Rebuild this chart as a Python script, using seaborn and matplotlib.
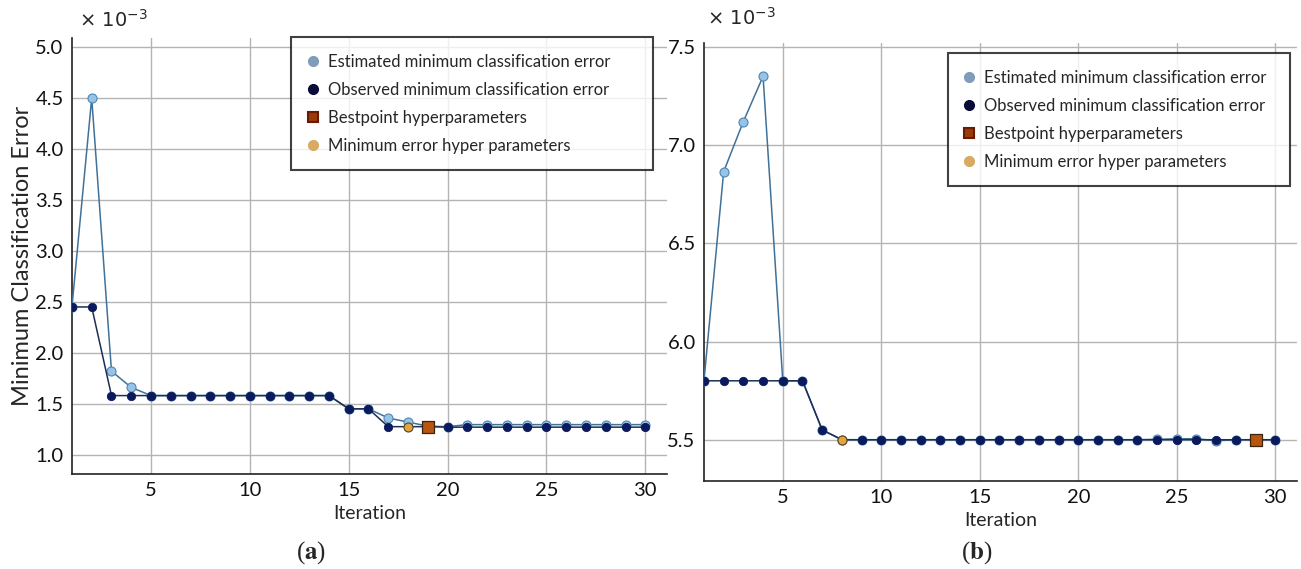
import numpy as np
import pandas as pd
import matplotlib
matplotlib.use("Agg")
import matplotlib.pyplot as plt
from matplotlib.lines import Line2D
import seaborn as sns

# ---------------- data (values in units of 1e-3) ----------------
iterations = list(range(1, 31))

est_a = [2.45, 4.50, 1.82, 1.66, 1.58, 1.58, 1.58, 1.58, 1.58, 1.58,
         1.58, 1.58, 1.58, 1.58, 1.45, 1.45, 1.36, 1.32, 1.28, 1.275,
         1.295, 1.295, 1.295, 1.295, 1.295, 1.295, 1.295, 1.295, 1.295, 1.295]
obs_a = [2.45, 2.45, 1.58, 1.58, 1.58, 1.58, 1.58, 1.58, 1.58, 1.58,
         1.58, 1.58, 1.58, 1.58, 1.45, 1.45, 1.275, 1.275, 1.275, 1.27,
         1.27, 1.27, 1.27, 1.27, 1.27, 1.27, 1.27, 1.27, 1.27, 1.27]
best_a_iter = [19]
best_a_val = [1.275]
minerr_a_iter = [18]
minerr_a_val = [1.275]

est_b = [5.80, 6.865, 7.12, 7.35, 5.80, 5.80, 5.55, 5.50, 5.50, 5.50,
         5.50, 5.50, 5.50, 5.50, 5.50, 5.50, 5.50, 5.50, 5.50, 5.50,
         5.50, 5.50, 5.50, 5.502, 5.505, 5.505, 5.495, 5.50, 5.50, 5.50]
obs_b = [5.80, 5.80, 5.80, 5.80, 5.80, 5.80, 5.55, 5.50, 5.50, 5.50,
         5.50, 5.50, 5.50, 5.50, 5.50, 5.50, 5.50, 5.50, 5.50, 5.50,
         5.50, 5.50, 5.50, 5.50, 5.50, 5.50, 5.50, 5.50, 5.50, 5.50]
best_b_iter = [29]
best_b_val = [5.50]
minerr_b_iter = [8]
minerr_b_val = [5.50]

xticks = [5, 10, 15, 20, 25, 30]
yticks_a = [1.0, 1.5, 2.0, 2.5, 3.0, 3.5, 4.0, 4.5, 5.0]
yticks_b = [5.5, 6.0, 6.5, 7.0, 7.5]

legend_labels = ["Estimated minimum classification error",
                 "Observed minimum classification error",
                 "Bestpoint hyperparameters",
                 "Minimum error hyper parameters"]

# ---------------- style ----------------
sns.set_theme(style="white")
plt.rcParams['font.family'] = ['Lato', 'DejaVu Sans']

C_EST_LINE = "#3f7199"
C_EST_FACE = "#97c4e6"
C_EST_EDGE = "#4f86b3"
C_OBS_LINE = "#1d2f55"
C_OBS_FACE = "#0b1a5c"
C_BEST_FACE = "#b8560f"
C_BEST_EDGE = "#3a2410"
C_MIN_FACE = "#e2a63a"
C_MIN_EDGE = "#5a4a2a"

fig = plt.figure(figsize=(13.01, 5.69), dpi=100)
ax_a = fig.add_axes([0.0553, 0.1669, 0.4574, 0.7663])
ax_b = fig.add_axes([0.5411, 0.1547, 0.4558, 0.7698])


def draw(ax, est, obs, bi, bv, mi, mv, ylim, yticks, leg_anchor):
    df = pd.DataFrame({"Iteration": iterations, "est": est, "obs": obs})
    sns.lineplot(data=df, x="Iteration", y="est", ax=ax, color=C_EST_LINE,
                 lw=1.1, marker="o", ms=6.5, markerfacecolor=C_EST_FACE,
                 markeredgecolor=C_EST_EDGE, markeredgewidth=0.8, zorder=3)
    sns.lineplot(data=df, x="Iteration", y="obs", ax=ax, color=C_OBS_LINE,
                 lw=1.1, marker="o", ms=6, markerfacecolor=C_OBS_FACE,
                 markeredgecolor=C_OBS_FACE, markeredgewidth=0.6, zorder=4)
    sns.scatterplot(x=mi, y=mv, ax=ax, marker="o", s=42, color=C_MIN_FACE,
                    edgecolor=C_MIN_EDGE, linewidth=0.8, zorder=5)
    sns.scatterplot(x=bi, y=bv, ax=ax, marker="s", s=80, color=C_BEST_FACE,
                    edgecolor=C_BEST_EDGE, linewidth=0.9, zorder=6)

    ax.set_xlim(1, 31.1)
    ax.set_ylim(*ylim)
    ax.set_xticks(xticks)
    ax.set_yticks(yticks)
    ax.set_yticklabels([f"{v:.1f}" for v in yticks])
    ax.grid(True, color="#b4b4b4", lw=1.0)
    ax.set_axisbelow(True)
    for s in ["top", "right"]:
        ax.spines[s].set_visible(False)
    for s in ["left", "bottom"]:
        ax.spines[s].set_color("#222222")
        ax.spines[s].set_linewidth(1.2)
    ax.tick_params(axis="both", direction="in", length=4, width=1,
                   labelsize=14.5, colors="#111111", pad=6)
    ax.set_xlabel("Iteration", fontsize=14, labelpad=4)
    ax.set_ylabel("")

    handles = [
        Line2D([], [], ls="none", marker="o", ms=7, mfc="#7f9cb9", mec="#7f9cb9"),
        Line2D([], [], ls="none", marker="o", ms=7, mfc="#0a0a3a", mec="#0a0a3a"),
        Line2D([], [], ls="none", marker="s", ms=7, mfc="#9a3a08", mec="#6a1a00", mew=1.5),
        Line2D([], [], ls="none", marker="o", ms=7, mfc="#d8aa62", mec="#d8aa62"),
    ]
    leg = ax.legend(handles, legend_labels, loc="upper left",
                    bbox_to_anchor=leg_anchor, mode="expand",
                    fontsize=12, frameon=True, fancybox=False,
                    handlelength=0.6, handletextpad=0.6, labelspacing=0.72,
                    borderpad=1.0, borderaxespad=0)
    leg.get_frame().set_edgecolor("#111111")
    leg.get_frame().set_linewidth(1.5)
    leg.set_zorder(10)


draw(ax_a, est_a, obs_a, best_a_iter, best_a_val, minerr_a_iter, minerr_a_val,
     (0.81, 5.09), yticks_a, (0.368, 1.002, 0.608, 0.0))
draw(ax_b, est_b, obs_b, best_b_iter, best_b_val, minerr_b_iter, minerr_b_val,
     (5.29, 7.52), yticks_b, (0.411, 0.977, 0.577, 0.0))

ax_a.set_ylabel("Minimum Classification Error", fontsize=17, labelpad=2)

# offset multipliers
ax_a.text(0.012, 1.045, r"$\times\ 10^{-3}$", transform=ax_a.transAxes,
          fontsize=14, ha="left", va="center", math_fontfamily="dejavusans")
ax_b.text(0.005, 1.06, r"$\times\ 10^{-3}$", transform=ax_b.transAxes,
          fontsize=14, ha="left", va="center", math_fontfamily="dejavusans")

# panel captions
fig.text(311 / 1301, 1 - 553 / 569, r"($\mathbf{a}$)", fontsize=18, ha="center",
         va="center", family="Liberation Serif", math_fontfamily="stix")
fig.text(977 / 1301, 1 - 553 / 569, r"($\mathbf{b}$)", fontsize=18, ha="center",
         va="center", family="Liberation Serif", math_fontfamily="stix")

fig.savefig("out.png", dpi=100)
